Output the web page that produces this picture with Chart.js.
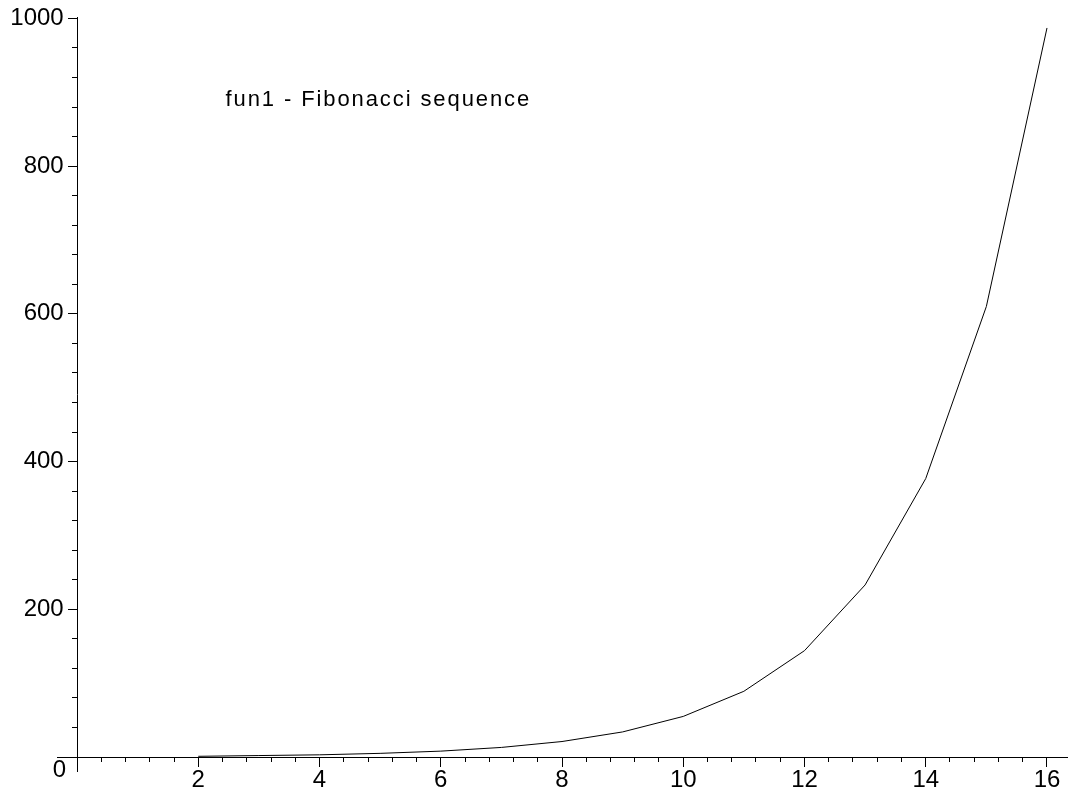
<!DOCTYPE html>
<html>
<head>
<meta charset="utf-8">
<script src="https://cdn.jsdelivr.net/npm/chart.js@4/dist/chart.umd.min.js"></script>
<style>
  html, body { margin: 0; padding: 0; background: #ffffff; }
  #wrap { width: 1070px; height: 793px; position: relative; }
</style>
</head>
<body>
<div id="wrap"><canvas id="fibChart" width="1070" height="793"></canvas></div>
<script>
// data
const nValues = [2, 3, 4, 5, 6, 7, 8, 9, 10, 11, 12, 13, 14, 15, 16];
const fibValues = [1, 2, 3, 5, 8, 13, 21, 34, 55, 89, 144, 233, 377, 610, 987];

// axes
const xMajorTicks = [2, 4, 6, 8, 10, 12, 14, 16];
const yMajorTicks = [200, 400, 600, 800, 1000];
const xMinorStep = 0.4;
const yMinorStep = 40;
const originLabel = "0";

// text in the plot
const plotLabel = "fun1 - Fibonacci sequence";
const plotLabelAt = { x: 2.45, y: 890 };

const X_MIN = -0.33, X_MAX = 16.33;
const Y_MIN = -18.9, Y_MAX = 1001.3;

function minorList(step, max) {
  const out = [];
  for (let i = 1; i * step <= max + 1e-9; i++) {
    out.push(Math.round(i * step * 1000) / 1000);
  }
  return out;
}
const xMinorTicks = minorList(xMinorStep, 16);
const yMinorTicks = minorList(yMinorStep, 1000);

const FONT = "'Liberation Sans', Arial, sans-serif";

function zeroSize(scale) {
  if (scale.isHorizontal()) scale.height = 0; else scale.width = 0;
}

// 原点 "0" 和图内说明
const textPlugin = {
  id: 'plotText',
  afterDraw(chart) {
    const { ctx, scales } = chart;
    const xs = scales.x, ys = scales.y;
    ctx.save();
    ctx.fillStyle = '#000';
    ctx.font = '24px ' + FONT;
    ctx.textAlign = 'right';
    ctx.textBaseline = 'top';
    ctx.fillText(originLabel, xs.getPixelForValue(0) - 11, ys.getPixelForValue(0) + 1);

    ctx.font = '22px ' + FONT;
    if ('letterSpacing' in ctx) ctx.letterSpacing = '1.9px';
    ctx.textAlign = 'left';
    ctx.textBaseline = 'middle';
    ctx.fillText(plotLabel, xs.getPixelForValue(plotLabelAt.x), ys.getPixelForValue(plotLabelAt.y));
    ctx.restore();
  }
};

const ctx = document.getElementById('fibChart').getContext('2d');
const chart = new Chart(ctx, {
  type: 'line',
  data: {
    datasets: [{
      data: nValues.map((n, i) => ({ x: n, y: fibValues[i] })),
      borderColor: '#000000',
      borderWidth: 1,
      pointRadius: 0,
      tension: 0,
      fill: false
    }]
  },
  options: {
    responsive: false,
    animation: false,
    layout: { padding: { left: 57, right: 3, top: 15, bottom: 22 } },
    plugins: { legend: { display: false }, tooltip: { enabled: false } },
    scales: {
      x: {
        type: 'linear',
        position: { y: 0 },
        min: X_MIN, max: X_MAX,
        afterBuildTicks: (s) => { s.ticks = xMajorTicks.map(v => ({ value: v })); },
        afterFit: zeroSize,
        ticks: { autoSkip: false, maxRotation: 0, color: '#000', padding: 0, font: { family: FONT, size: 24 },
                 callback: (v) => String(v) },
        grid: { drawOnChartArea: false, tickLength: 9, tickColor: '#000', tickWidth: 1 },
        border: { display: true, color: '#000', width: 1 }
      },
      x2: {
        type: 'linear',
        axis: 'x',
        position: { y: 0 },
        min: X_MIN, max: X_MAX,
        afterBuildTicks: (s) => { s.ticks = xMinorTicks.map(v => ({ value: v })); },
        afterFit: zeroSize,
        ticks: { display: false },
        grid: { drawOnChartArea: false, tickLength: 5, tickColor: '#000', tickWidth: 1 },
        border: { display: false }
      },
      y: {
        type: 'linear',
        position: { x: 0 },
        min: Y_MIN, max: Y_MAX,
        afterBuildTicks: (s) => { s.ticks = yMajorTicks.map(v => ({ value: v })); },
        afterFit: zeroSize,
        // labels sit right on the axis line with an object position, so pad with spaces
        ticks: { autoSkip: false, color: '#000', font: { family: FONT, size: 24 },
                 callback: (v) => String(v) + '  ' },
        grid: { drawOnChartArea: false, tickLength: 9, tickColor: '#000', tickWidth: 1 },
        border: { display: true, color: '#000', width: 1 }
      },
      y2: {
        type: 'linear',
        axis: 'y',
        position: { x: 0 },
        min: Y_MIN, max: Y_MAX,
        afterBuildTicks: (s) => { s.ticks = yMinorTicks.map(v => ({ value: v })); },
        afterFit: zeroSize,
        ticks: { display: false },
        grid: { drawOnChartArea: false, tickLength: 5, tickColor: '#000', tickWidth: 1 },
        border: { display: false }
      }
    }
  },
  plugins: [textPlugin]
});
</script>
</body>
</html>
